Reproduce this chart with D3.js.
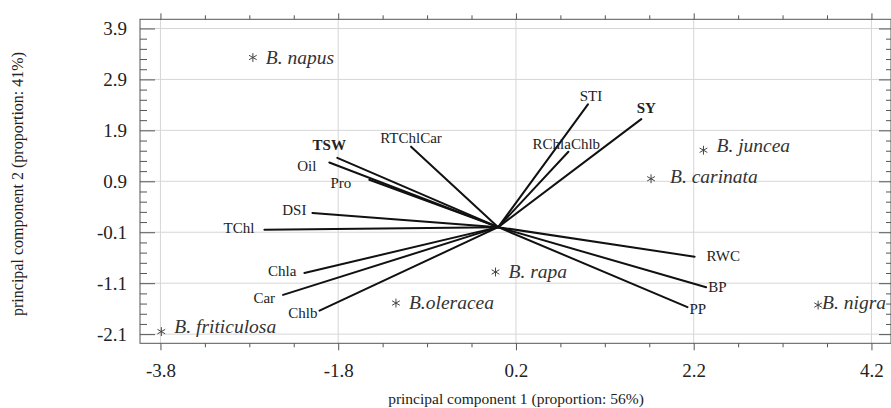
<!DOCTYPE html>
<html>
<head>
<meta charset="utf-8">
<script src="https://cdn.jsdelivr.net/npm/d3@7"></script>
<style>
  body { margin: 0; background: #fff; }
  svg { display: block; font-family: "Liberation Serif", "Times New Roman", serif; }
</style>
</head>
<body>
<div id="biplot"></div>
<script>
// variable loadings (PC1, PC2)
const variables = ["TSW", "Oil", "Pro", "DSI", "TChl", "RTChlCar", "Chla", "Car", "Chlb", "STI", "SY", "RChlaChlb", "RWC", "BP", "PP"];
const loadPC1 = [-1.81, -1.90, -1.45, -2.09, -2.63, -0.98, -2.18, -2.42, -2.01, 1.01, 1.61, 0.79, 2.21, 2.34, 2.13];
const loadPC2 = [1.36, 1.27, 0.93, 0.28, -0.05, 1.58, -0.90, -1.33, -1.64, 2.41, 2.12, 1.48, -0.58, -1.18, -1.57];

// species scores (PC1, PC2)
const species = ["B. napus", "B. juncea", "B. carinata", "B. rapa", "B.oleracea", "B. friticulosa", "B. nigra"];
const scorePC1 = [-2.76, 2.31, 1.72, -0.03, -1.15, -3.79, 3.60];
const scorePC2 = [3.33, 1.51, 0.95, -0.88, -1.49, -2.05, -1.53];

// tick labels
const xTicks = [-3.8, -1.8, 0.2, 2.2, 4.2];
const yTicks = [3.9, 2.9, 1.9, 0.9, -0.1, -1.1, -2.1];

const W = 891, H = 408;
const pL = 140, pR = 891, pT = 19.3, pB = 343.3;

const svg = d3.select("#biplot").append("svg")
  .attr("width", W)
  .attr("height", H);

const x = d3.scaleLinear().domain([-4.03, 4.42]).range([pL, pR]);
const y = d3.scaleLinear().domain([-2.28, 4.08]).range([pB, pT]);

// plain hyphen for negatives, like the original
const fmt = d => d3.format(".1f")(d).replace("\u2212", "-");

// minor tick positions
const xMinor = d3.range(-3.8, 4.21, 0.5).filter(v => !xTicks.some(t => Math.abs(t - v) < 1e-6));
const yMinor = d3.range(-2.1, 3.91, 0.2).filter(v => !yTicks.some(t => Math.abs(t - v) < 1e-6));

// grid
svg.append("g").selectAll("line")
  .data(xTicks)
  .join("line")
  .attr("x1", d => x(d)).attr("x2", d => x(d))
  .attr("y1", pT).attr("y2", pB)
  .attr("stroke", "#d6d6d6").attr("stroke-width", 1);
svg.append("g").selectAll("line")
  .data(yTicks)
  .join("line")
  .attr("x1", pL).attr("x2", pR)
  .attr("y1", d => y(d)).attr("y2", d => y(d))
  .attr("stroke", "#d6d6d6").attr("stroke-width", 1);

// axes
function styleAxis(g) {
  g.select(".domain").remove();
  g.selectAll(".tick line").attr("stroke", "#555");
  g.selectAll(".tick text")
    .attr("fill", "#222")
    .style("font-size", "19px")
    .style("font-family", "Liberation Serif");
}

svg.append("g")
  .attr("transform", `translate(0,${pB})`)
  .call(d3.axisBottom(x).tickValues(xTicks).tickSizeInner(7).tickSizeOuter(0).tickPadding(13).tickFormat(fmt))
  .call(styleAxis);
svg.append("g")
  .attr("transform", `translate(0,${pB})`)
  .call(d3.axisBottom(x).tickValues(xMinor).tickSize(4).tickFormat(""))
  .call(styleAxis);
svg.append("g")
  .attr("transform", `translate(0,${pT})`)
  .call(d3.axisTop(x).tickValues(xTicks).tickSize(6).tickFormat(""))
  .call(styleAxis);
svg.append("g")
  .attr("transform", `translate(0,${pT})`)
  .call(d3.axisTop(x).tickValues(xMinor).tickSize(4).tickFormat(""))
  .call(styleAxis);

svg.append("g")
  .attr("transform", `translate(${pL},0)`)
  .call(d3.axisLeft(y).tickValues(yTicks).tickSizeInner(-15).tickSizeOuter(0).tickPadding(13).tickFormat(fmt))
  .call(styleAxis);
svg.append("g")
  .attr("transform", `translate(${pL},0)`)
  .call(d3.axisLeft(y).tickValues(yMinor).tickSizeInner(-7).tickSizeOuter(0).tickFormat(""))
  .call(styleAxis);
svg.append("g")
  .attr("transform", `translate(${pR},0)`)
  .call(d3.axisLeft(y).tickValues(yTicks).tickSize(12).tickFormat(""))
  .call(styleAxis);
svg.append("g")
  .attr("transform", `translate(${pR},0)`)
  .call(d3.axisLeft(y).tickValues(yMinor).tickSize(5).tickFormat(""))
  .call(styleAxis);

// frame
svg.append("rect")
  .attr("x", pL).attr("y", pT)
  .attr("width", pR - pL).attr("height", pB - pT)
  .attr("fill", "none")
  .attr("stroke", "#555")
  .attr("stroke-width", 1);

// axis titles
svg.append("text")
  .attr("x", 516)
  .attr("y", 404)
  .attr("text-anchor", "middle")
  .style("font-size", "15.5px")
  .attr("fill", "#222")
  .text("principal component 1 (proportion: 56%)");
svg.append("text")
  .attr("transform", `translate(23,184) rotate(-90)`)
  .attr("text-anchor", "middle")
  .style("font-size", "16px")
  .attr("fill", "#222")
  .text("principal component 2 (proportion: 41%)");

// loading vectors
const vecData = variables.map((v, i) => ({ name: v, pc1: loadPC1[i], pc2: loadPC2[i] }));

svg.append("g").selectAll("line")
  .data(vecData)
  .join("line")
  .attr("x1", x(0)).attr("y1", y(0))
  .attr("x2", d => x(d.pc1)).attr("y2", d => y(d.pc2))
  .attr("stroke", "#111")
  .attr("stroke-width", 2)
  .attr("stroke-linecap", "round");

// where each label sits relative to its vector tip: [anchor, dx, dy]
const vecLabelPlace = {
  TSW: ["middle", -8, -8], Oil: ["end", -13, 9], Pro: ["end", -18, 8], DSI: ["end", -6, 2],
  TChl: ["end", -10, 3], RTChlCar: ["middle", 0, -4], Chla: ["end", -8, 3], Car: ["end", -8, 8],
  Chlb: ["end", -2, 7], STI: ["middle", 3, -3], SY: ["middle", 5, -6], RChlaChlb: ["middle", -2, -3],
  RWC: ["start", 12, 4], BP: ["start", 2, 5], PP: ["start", 2, 7]
};

svg.append("g").selectAll("text")
  .data(vecData)
  .join("text")
  .attr("x", d => x(d.pc1) + vecLabelPlace[d.name][1])
  .attr("y", d => y(d.pc2) + vecLabelPlace[d.name][2])
  .attr("text-anchor", d => vecLabelPlace[d.name][0])
  .style("font-size", "15px")
  .style("font-weight", d => (d.name === "TSW" || d.name === "SY") ? "bold" : "normal")
  .attr("fill", "#222")
  .text(d => d.name);

// species points
const spData = species.map((s, i) => ({ name: s, pc1: scorePC1[i], pc2: scorePC2[i] }));
const star = d3.symbol().type(d3.symbolAsterisk).size(55);

svg.append("g").selectAll("path")
  .data(spData)
  .join("path")
  .attr("transform", d => `translate(${x(d.pc1)},${y(d.pc2)})`)
  .attr("d", star)
  .attr("fill", "none")
  .attr("stroke", "#444")
  .attr("stroke-width", 1);

const spLabelShift = { "B. carinata": [19, 4], "B. nigra": [4, 4], "B. friticulosa": [13, 1], "B. juncea": [13, 2] };

svg.append("g").selectAll("text")
  .data(spData)
  .join("text")
  .attr("x", d => x(d.pc1) + (spLabelShift[d.name] ? spLabelShift[d.name][0] : 13))
  .attr("y", d => y(d.pc2) + (spLabelShift[d.name] ? spLabelShift[d.name][1] : 6))
  .style("font-size", "19.5px")
  .style("font-style", "italic")
  .attr("fill", "#333")
  .text(d => d.name);
</script>
</body>
</html>
